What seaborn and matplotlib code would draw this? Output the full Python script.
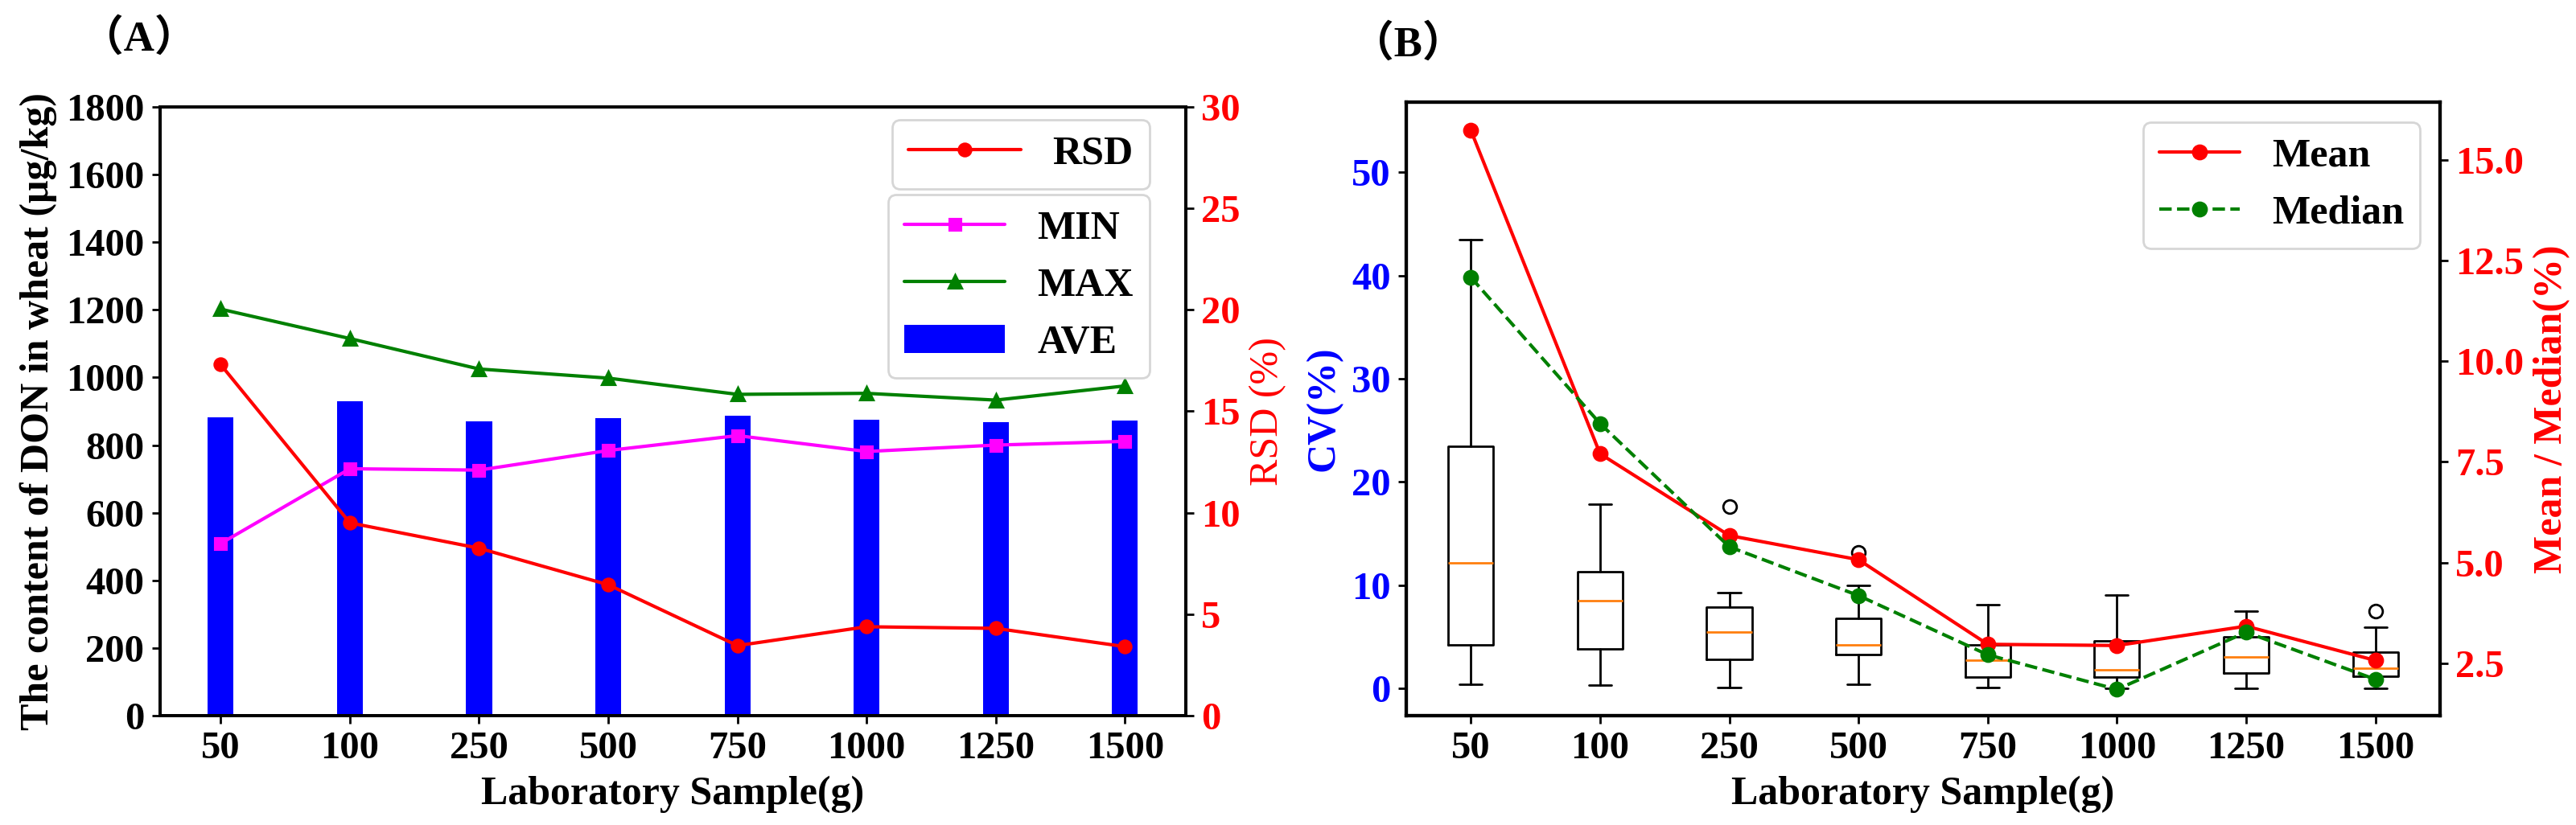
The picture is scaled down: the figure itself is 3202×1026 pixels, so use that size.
import numpy as np
import matplotlib
matplotlib.use("Agg")
import matplotlib.pyplot as plt
import seaborn as sns

# ---------------- data ----------------
samples = ["50", "100", "250", "500", "750", "1000", "1250", "1500"]

# Panel A
ave = [882, 929, 871, 879, 886, 875, 867, 873]
don_min = [509, 730, 726, 784, 828, 781, 800, 811]
don_max = [1202, 1115, 1025, 998, 950, 953, 933, 975]
rsd = [17.3, 9.5, 8.25, 6.45, 3.45, 4.38, 4.3, 3.4]

# Panel B (box statistics of CV %)
cv_whislo = [0.42, 0.31, 0.08, 0.42, 0.05, 0.0, 0.0, 0.0]
cv_q1 = [4.17, 3.81, 2.77, 3.29, 1.05, 1.12, 1.51, 1.2]
cv_med = [12.17, 8.51, 5.48, 4.18, 2.7, 1.77, 3.07, 1.97]
cv_q3 = [23.45, 11.28, 7.9, 6.79, 4.2, 4.63, 4.95, 3.48]
cv_whishi = [43.5, 17.8, 9.3, 9.95, 8.1, 9.05, 7.5, 5.95]
cv_fliers = [[], [], [17.57], [13.2], [], [], [], [7.5]]
cv_mean = [15.73, 7.7, 5.67, 5.07, 2.97, 2.94, 3.42, 2.57]
cv_median = [12.08, 8.45, 5.39, 4.18, 2.71, 1.85, 3.27, 2.1]

# ---------------- style ----------------
sns.set_style("ticks", rc={"axes.edgecolor": "black", "text.color": "black",
                           "xtick.color": "black", "ytick.color": "black",
                           "axes.labelcolor": "black"})
plt.rcParams["font.family"] = ["Liberation Serif", "DejaVu Serif"]
plt.rcParams["font.weight"] = "bold"
plt.rcParams["axes.labelweight"] = "bold"

FS_TICK = 17.5
FS_LAB = 18

fig = plt.figure(figsize=(16.01, 5.13), dpi=200)

# ---------------- Panel A ----------------
axA = fig.add_axes([0.0621, 0.1326, 0.3982, 0.7378])
sns.barplot(x=samples, y=ave, order=samples, color="blue", saturation=1,
            width=0.2, errorbar=None, linewidth=0, ax=axA)
bars = axA.containers[0]
n0 = len(axA.lines)
sns.pointplot(x=samples, y=don_min, order=samples, color="magenta", markers="s",
              markersize=5, linewidth=1.5, errorbar=None, ax=axA)
line_min = axA.lines[n0]
n0 = len(axA.lines)
sns.pointplot(x=samples, y=don_max, order=samples, color="green", markers="^",
              markersize=5.5, linewidth=1.5, errorbar=None, ax=axA)
line_max = axA.lines[n0]

axA2 = axA.twinx()
sns.pointplot(x=samples, y=rsd, order=samples, color="red", markers="o",
              markersize=5.5, linewidth=1.5, errorbar=None, ax=axA2)
line_rsd = axA2.lines[-1]

axA.set_xlim(-0.47, 7.47)
axA.set_ylim(0, 1800)
axA.set_yticks(np.arange(0, 1801, 200))
axA2.set_ylim(0, 30)
axA2.set_yticks(np.arange(0, 31, 5))

axA.set_ylabel("The content of DON in wheat (μg/kg)", fontsize=FS_LAB, fontweight="bold")
axA.set_xlabel("Laboratory Sample(g)", fontsize=FS_LAB, fontweight="bold")
axA2.set_ylabel("RSD (%)", fontsize=FS_LAB, fontweight="normal", color="red")
axA.tick_params(labelsize=FS_TICK, length=3.5, width=1)
axA2.tick_params(axis="y", labelsize=FS_TICK, labelcolor="red", length=3.5, width=1)

leg1 = axA2.legend([line_rsd], ["RSD"], loc="upper right", bbox_to_anchor=(0.9647, 0.979),
                   borderaxespad=0, handlelength=2.8, fontsize=FS_LAB)
axA2.add_artist(leg1)
axA2.legend([line_min, line_max, bars], ["MIN", "MAX", "AVE"], loc="upper right",
            bbox_to_anchor=(0.9647, 0.856), borderaxespad=0, handlelength=2.5,
            fontsize=FS_LAB)

for ax in (axA, axA2):
    for sp in ax.spines.values():
        sp.set_linewidth(1.4)
        sp.set_color("black")

# ---------------- Panel B ----------------
axB = fig.add_axes([0.5459, 0.1326, 0.4013, 0.7437])
stats = [dict(label=s, whislo=a, q1=b, med=c, q3=d, whishi=e, fliers=f)
         for s, a, b, c, d, e, f in zip(samples, cv_whislo, cv_q1, cv_med, cv_q3,
                                         cv_whishi, cv_fliers)]
axB.bxp(stats, positions=np.arange(len(samples)), widths=0.35, showfliers=True,
        boxprops=dict(color="black", linewidth=1.0),
        whiskerprops=dict(color="black", linewidth=1.0),
        capprops=dict(color="black", linewidth=1.0),
        medianprops=dict(color="#ff7f0e", linewidth=1.0),
        flierprops=dict(marker="o", markerfacecolor="none", markeredgecolor="black",
                        markersize=6))

axB2 = axB.twinx()
n0 = len(axB2.lines)
sns.pointplot(x=samples, y=cv_mean, order=samples, color="red", markers="o",
              linestyles="-", markersize=6, linewidth=1.5, errorbar=None, ax=axB2)
line_mean = axB2.lines[n0]
n0 = len(axB2.lines)
sns.pointplot(x=samples, y=cv_median, order=samples, color="green", markers="o",
              linestyles="--", markersize=6, linewidth=1.5, errorbar=None, ax=axB2)
line_median = axB2.lines[n0]

axB.set_xlim(-0.5, 7.5)
axB.set_ylim(-2.65, 56.8)
axB.set_yticks(np.arange(0, 51, 10))
axB2.set_ylim(1.2, 16.43)
axB2.set_yticks(np.arange(2.5, 15.01, 2.5))

axB.set_xlabel("Laboratory Sample(g)", fontsize=FS_LAB, fontweight="bold")
axB.set_ylabel("CV(%)", fontsize=FS_LAB, fontweight="bold", color="blue")
axB2.set_ylabel("Mean / Median(%)", fontsize=FS_LAB, fontweight="bold", color="red")
axB.tick_params(labelsize=FS_TICK, length=3.5, width=1)
axB.tick_params(axis="y", labelcolor="blue")
axB2.tick_params(axis="y", labelsize=FS_TICK, labelcolor="red", length=3.5, width=1)

axB2.legend([line_mean, line_median], ["Mean", "Median"], loc="upper right",
            fontsize=FS_LAB)

for ax in (axB, axB2):
    for sp in ax.spines.values():
        sp.set_linewidth(1.5)
        sp.set_color("black")

# ---------------- panel labels ----------------
fig.text(0.054, 0.953, "（A）", ha="center", va="center", fontsize=19,
         family=["Liberation Serif", "Noto Sans CJK SC"], fontweight="bold")
fig.text(0.5465, 0.946, "（B）", ha="center", va="center", fontsize=19,
         family=["Liberation Serif", "Noto Sans CJK SC"], fontweight="bold")

fig.savefig("out.png", dpi=200)
